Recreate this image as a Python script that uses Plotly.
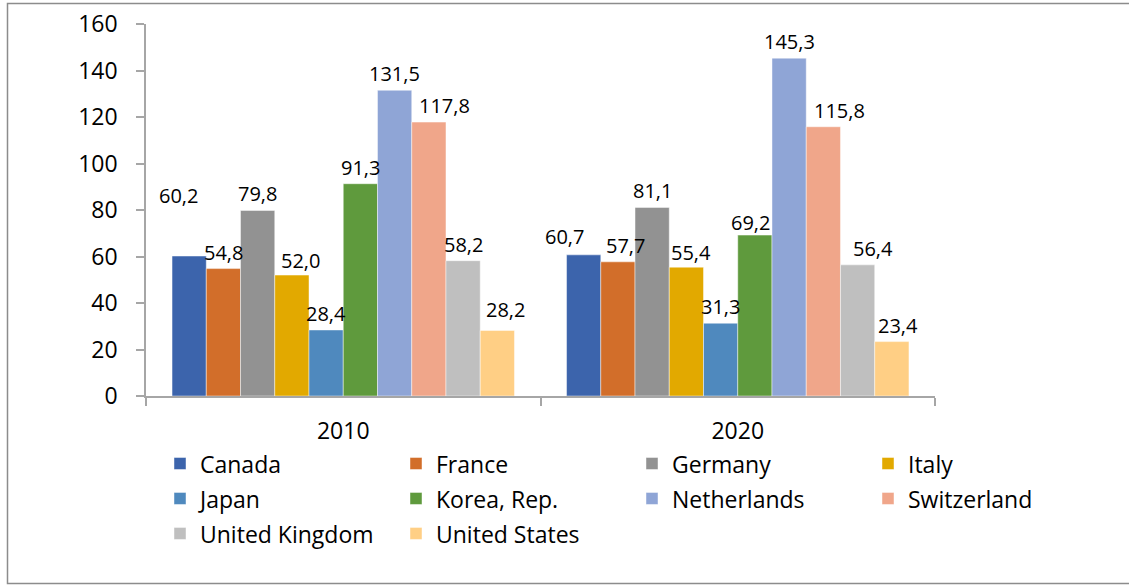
import plotly.graph_objects as go

years = ["2010", "2020"]
countries = ["Canada", "France", "Germany", "Italy", "Japan", "Korea, Rep.",
             "Netherlands", "Switzerland", "United Kingdom", "United States"]
values_2010 = [60.2, 54.8, 79.8, 52.0, 28.4, 91.3, 131.5, 117.8, 58.2, 28.2]
values_2020 = [60.7, 57.7, 81.1, 55.4, 31.3, 69.2, 145.3, 115.8, 56.4, 23.4]
colors = ["#3C64AC", "#D26E2A", "#929292", "#E2A900", "#4F89BE",
          "#5F9A3D", "#8FA5D6", "#F0A68A", "#BFBFBF", "#FFCF85"]
y_ticks = [0, 20, 40, 60, 80, 100, 120, 140, 160]

# label nudges (px, style only): Excel-style manual label placement
label_nudge = {
    ("Canada", "2010"): (-11, 44),
    ("Italy", "2010"): (9, -2),
    ("United States", "2010"): (8, 4),
    ("Switzerland", "2010"): (16, 0),
    ("Canada", "2020"): (-19, 2),
    ("France", "2020"): (8, 0),
    ("Italy", "2020"): (5, -2),
    ("Korea, Rep.", "2020"): (-4, -4),
    ("Switzerland", "2020"): (16, 0),
    ("United Kingdom", "2020"): (15, 0),
    ("United States", "2020"): (6, 0),
}

FONT = "Open Sans"
W, H = 1129, 586
ML, MR, MT, MB = 146, 10, 24, 190
GW, PH = W - ML - MR, H - MT - MB          # full plot-area width / height
AXIS_W = 789                               # x axis spans 146..935
BARGAP = 0.132
N = len(countries)

def px_x(p):
    return (p - ML) / GW

def px_y(p):
    return (H - MB - p) / PH

fig = go.Figure()
for i, c in enumerate(countries):
    fig.add_trace(go.Bar(
        name=f"<span style='font-size:23px'>{c}</span>",
        x=years, y=[values_2010[i], values_2020[i]],
        marker=dict(color=colors[i], line=dict(color="rgba(255,255,255,0.45)", width=1)),
        textposition="none", hovertext=c,
    ))

# data labels
cat_w = AXIS_W / len(years)
bar_w = cat_w * (1 - BARGAP) / N
annotations = []
for i, c in enumerate(countries):
    for j, (yr, v) in enumerate(zip(years, [values_2010[i], values_2020[i]])):
        dx, dy = label_nudge.get((c, yr), (0, 0))
        annotations.append(dict(
            x=j, y=v, xref="x", yref="y", showarrow=False,
            text=f"{v:.1f}".replace(".", ","),
            xanchor="center", yanchor="bottom",
            xshift=(i - (N - 1) / 2) * bar_w + dx, yshift=1 + dy,
            font=dict(family=FONT, size=20, color="#000000"),
        ))

fig.update_layout(
    width=W, height=H,
    margin=dict(l=ML, r=MR, t=MT, b=MB, autoexpand=False),
    paper_bgcolor="white", plot_bgcolor="white",
    barmode="group", bargap=BARGAP, bargroupgap=0,
    font=dict(family=FONT, size=22, color="#000000"),
    showlegend=True,
    legend=dict(orientation="h", x=px_x(160), y=px_y(441), xanchor="left", yanchor="top",
                entrywidth=191, entrywidthmode="pixels",
                font=dict(family=FONT, size=24.6, color="#000000"),
                traceorder="normal", itemclick=False, bgcolor="rgba(0,0,0,0)"),
    xaxis=dict(type="category", domain=[0, AXIS_W / GW], range=[-0.5, len(years) - 0.5],
               autorange=False, showline=True, linecolor="#A6A6A6", linewidth=1.5,
               ticks="outside", tickson="boundaries", ticklen=8, tickcolor="#A6A6A6",
               tickwidth=1.5, showgrid=False, ticklabelstandoff=14, tickangle=0,
               tickfont=dict(family=FONT, size=23)),
    yaxis=dict(range=[0, 160], autorange=False, tickvals=y_ticks, showline=True,
               linecolor="#A6A6A6", linewidth=1.5, ticks="outside", ticklen=8,
               tickcolor="#A6A6A6", tickwidth=1.5,
               showgrid=False, zeroline=False, ticklabelstandoff=14,
               tickfont=dict(family=FONT, size=23)),
    annotations=annotations,
    shapes=[dict(type="rect", xref="paper", yref="paper",
                 x0=px_x(7.5), x1=px_x(1140), y0=px_y(583.5), y1=px_y(3.5),
                 line=dict(color="#8C8C8C", width=1.5), layer="below")],
)

fig.write_html("out.html")
